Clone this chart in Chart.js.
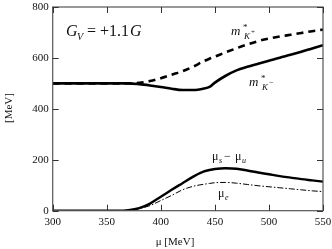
<!DOCTYPE html>
<html><head><meta charset="utf-8">
<script src="https://cdn.jsdelivr.net/npm/chart.js@4.4.0/dist/chart.umd.min.js"></script>
<style>html,body{margin:0;padding:0;background:#fff}#c{display:block}</style>
</head><body>
<canvas id="c" width="332" height="249"></canvas>
<script>
const mu = [300,350,360,370,380,390,400,410,420,430,440,445,450,460,470,480,490,500,510,520,530,540,550];
const mKplus  = [500,500,500,500,502,509,520,534,548,566,588,597,605,622,638,653,666,676,684,691,698,705,711];
const mKminus = [500,500,500,500,497,492,486,479,474,474,480,486,503,530,551,565,577,589,601,612,624,637,650];
const muSmU   = [0,0,0,2,10,28,55,82,108,134,154,160,164,167,165,158,150,143,136,130,124,119,114];
const muE     = [0,0,0,1,8,20,40,60,82,96,104,107,110,111,108,103,98,94,90,86,82,78,75];
const xTicks = [300,350,400,450,500,550];
const yTicks = [0,200,400,600,800];

const pts = arr => mu.map((x,i)=>({x, y:arr[i]}));
const serif = "'Liberation Serif','DejaVu Serif',serif";

const decor = {
  id:'decor',
  afterDraw(chart){
    const {ctx, chartArea:a, scales:{x,y}} = chart;
    ctx.save();
    ctx.strokeStyle='#555'; ctx.lineWidth=1.2;
    ctx.strokeRect(a.left, a.top, a.right-a.left, a.bottom-a.top);
    ctx.strokeStyle='#333'; ctx.lineWidth=1;
    xTicks.forEach(v=>{const px=Math.round(x.getPixelForValue(v))+0.5;
      ctx.beginPath();ctx.moveTo(px,a.bottom);ctx.lineTo(px,a.bottom-6);
      ctx.moveTo(px,a.top);ctx.lineTo(px,a.top+6);ctx.stroke();});
    yTicks.forEach(v=>{const py=Math.round(y.getPixelForValue(v))+0.5;
      ctx.beginPath();ctx.moveTo(a.left,py);ctx.lineTo(a.left+6,py);
      ctx.moveTo(a.right,py);ctx.lineTo(a.right-6,py);ctx.stroke();});
    ctx.fillStyle='#111';
    ctx.textBaseline='alphabetic'; ctx.textAlign='left';
    ctx.font="italic 16px "+serif; ctx.fillText('G',66,36);
    ctx.font="italic 10px "+serif; ctx.fillText('V',77,40);
    ctx.font="16px "+serif; ctx.fillText('= +1.1',87,36);
    const w = ctx.measureText('= +1.1').width;
    ctx.font="italic 16px "+serif; ctx.fillText('G',87+w+1,36);
    ctx.font="italic 13px "+serif; ctx.fillText('m',231,35);
    ctx.font="9px "+serif; ctx.fillText('*',243,30);
    ctx.font="italic 9px "+serif; ctx.fillText('K',244,39);
    ctx.font="7px "+serif; ctx.fillText('+',251,34);
    ctx.font="italic 13px "+serif; ctx.fillText('m',249,86);
    ctx.font="9px "+serif; ctx.fillText('*',261,81);
    ctx.font="italic 9px "+serif; ctx.fillText('K',262,90);
    ctx.font="8px "+serif; ctx.fillText('\u2212',269,85);
    ctx.font="12px "+serif; ctx.fillText('\u03bc',212,160);
    ctx.font="italic 8px "+serif; ctx.fillText('s',219,163);
    ctx.font="12px "+serif; ctx.fillText('\u2212',224,160);
    ctx.fillText('\u03bc',235,160);
    ctx.font="italic 8px "+serif; ctx.fillText('u',242,163);
    ctx.font="12px "+serif; ctx.fillText('\u03bc',218,197);
    ctx.font="italic 8px "+serif; ctx.fillText('e',225,200);
    ctx.font="11px "+serif; ctx.textAlign='center'; ctx.textBaseline='middle';
    ctx.fillText('\u03bc [MeV]', 175, 242);
    ctx.translate(9,108); ctx.rotate(-Math.PI/2); ctx.fillText('[MeV]',0,0);
    ctx.restore();
  }
};

new Chart(document.getElementById('c'), {
  type:'line',
  data:{datasets:[
    {data:pts(mKplus), borderColor:'#000', borderWidth:2.6, borderDash:[7,5], pointRadius:0, cubicInterpolationMode:'monotone'},
    {data:pts(mKminus), borderColor:'#000', borderWidth:2.6, pointRadius:0, cubicInterpolationMode:'monotone'},
    {data:pts(muSmU), borderColor:'#000', borderWidth:2.4, pointRadius:0, cubicInterpolationMode:'monotone'},
    {data:pts(muE), borderColor:'#000', borderWidth:1, borderDash:[6,2,1.5,2], pointRadius:0, cubicInterpolationMode:'monotone'}
  ]},
  options:{
    responsive:false, animation:false, devicePixelRatio:1,
    layout:{padding:{left:0,right:9,top:7,bottom:0}},
    plugins:{legend:{display:false}, tooltip:{enabled:false}},
    scales:{
      x:{type:'linear', min:300, max:550,
        afterBuildTicks(s){s.ticks=xTicks.map(v=>({value:v}));},
        afterFit(s){s.height=38.3; s.paddingLeft=0; s.paddingRight=0;},
        grid:{display:false, tickLength:0, drawTicks:false}, border:{display:false},
        ticks:{color:'#111', font:{family:serif,size:11}, padding:5, maxRotation:0}},
      y:{min:0, max:800,
        afterBuildTicks(s){s.ticks=yTicks.map(v=>({value:v}));},
        afterFit(s){s.width=52.7; s.paddingTop=0; s.paddingBottom=0;},
        grid:{display:false, tickLength:0, drawTicks:false}, border:{display:false},
        ticks:{color:'#111', font:{family:serif,size:11}, padding:4}}
    }
  },
  plugins:[decor]
});
</script>
</body></html>
